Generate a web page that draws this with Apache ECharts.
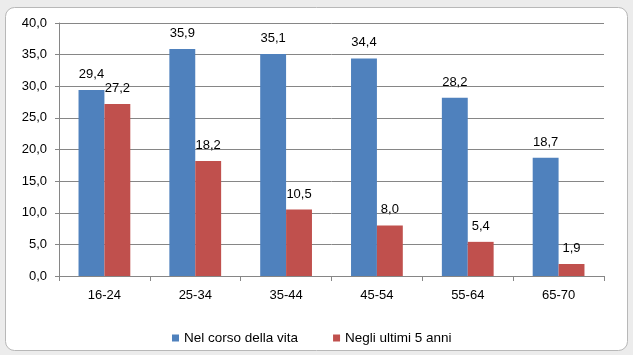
<!DOCTYPE html>
<html>
<head>
<meta charset="utf-8">
<script src="https://cdn.jsdelivr.net/npm/echarts@6/dist/echarts.min.js"></script>
<style>
html,body{margin:0;padding:0;background:#ececec;}
#c{width:633px;height:355px;}
</style>
</head>
<body>
<div id="c"></div>
<script>
var categories = ['16-24', '25-34', '35-44', '45-54', '55-64', '65-70'];
var seriesNames = ['Nel corso della vita', 'Negli ultimi 5 anni'];
var lifetime = [29.4, 35.9, 35.1, 34.4, 28.2, 18.7];
var last5 = [27.2, 18.2, 10.5, 8.0, 5.4, 1.9];
var yTicks = [0, 5, 10, 15, 20, 25, 30, 35, 40];

function fmt(v) { return v.toFixed(1).replace('.', ','); }

var chart = echarts.init(document.getElementById('c'));
var font = 'Liberation Sans';
chart.setOption({
  backgroundColor: '#ececec',
  animation: false,
  graphic: [{
    type: 'rect',
    z: -10,
    silent: true,
    shape: { x: 5.5, y: 7.5, width: 622, height: 343, r: 9 },
    style: { fill: '#ffffff', stroke: '#b8b8b8', lineWidth: 1 }
  }],
  grid: { left: 59, right: 29, top: 23, bottom: 79 },
  legend: {
    bottom: 5,
    left: 167,
    itemWidth: 7,
    itemHeight: 7,
    itemGap: 35,
    icon: 'rect',
    textStyle: { fontFamily: font, fontSize: 13.5, color: '#000', padding: [0, 0, 0, 0] },
    data: seriesNames
  },
  xAxis: {
    type: 'category',
    data: categories,
    axisLine: { lineStyle: { color: '#868686' } },
    axisTick: { show: true, length: 5, alignWithLabel: false, lineStyle: { color: '#868686' } },
    axisLabel: { fontFamily: font, fontSize: 13, color: '#000', margin: 13 }
  },
  yAxis: {
    type: 'value',
    min: yTicks[0],
    max: yTicks[yTicks.length - 1],
    interval: 5,
    axisLine: { show: true, lineStyle: { color: '#868686' } },
    axisTick: { show: true, length: 4, lineStyle: { color: '#868686' } },
    splitLine: { lineStyle: { color: '#868686' } },
    axisLabel: { fontFamily: font, fontSize: 13, color: '#000', margin: 12, formatter: function (v) { return fmt(v); } }
  },
  series: [{
    name: seriesNames[0],
    type: 'bar',
    data: lifetime,
    barGap: '0%',
    barCategoryGap: '43%',
    itemStyle: { color: '#4f81bd' },
    label: { show: true, position: 'top', distance: 9, fontFamily: font, fontSize: 13, color: '#000', formatter: function (p) { return fmt(p.value); } }
  }, {
    name: seriesNames[1],
    type: 'bar',
    data: last5,
    itemStyle: { color: '#c0504d' },
    label: { show: true, position: 'top', distance: 9, fontFamily: font, fontSize: 13, color: '#000', formatter: function (p) { return fmt(p.value); } }
  }]
});
</script>
</body>
</html>
